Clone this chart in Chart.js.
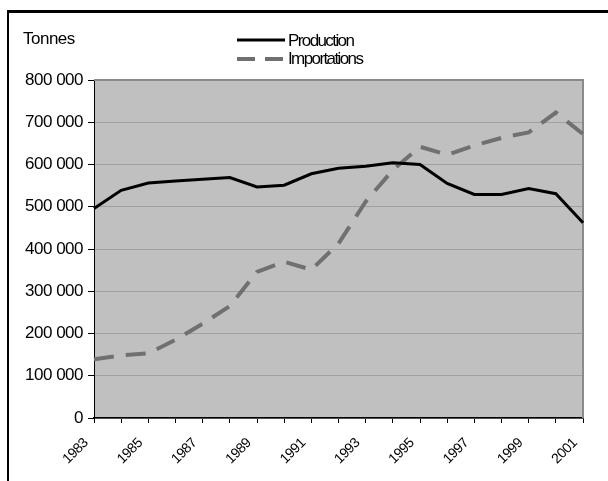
<!DOCTYPE html>
<html>
<head>
<meta charset="utf-8">
<script src="https://cdn.jsdelivr.net/npm/chart.js@4.4.1/dist/chart.umd.min.js"></script>
<style>
  html, body { margin: 0; padding: 0; background: #fff; }
  #wrap { width: 608px; height: 481px; }
</style>
</head>
<body>
<div id="wrap"><canvas id="c" width="608" height="481"></canvas></div>
<script>
// Annual tonnages, 1983-2001
const years = ['1983', '1984', '1985', '1986', '1987', '1988', '1989', '1990', '1991', '1992',
               '1993', '1994', '1995', '1996', '1997', '1998', '1999', '2000', '2001'];
const production = [496000, 539000, 556000, 561000, 565000, 569000, 547000, 551000, 578000, 591000,
                    596000, 604000, 600000, 555000, 529000, 529000, 543000, 531000, 462000];
const importations = [139000, 148000, 153000, 185000, 223000, 265000, 346000, 370000, 351000, 413000,
                      512000, 587000, 642000, 623000, 645000, 663000, 676000, 723000, 672000];
const seriesNames = ['Production', 'Importations'];
const unitLabel = 'Tonnes';
const yMax = 800000;
const yStep = 100000;

const FONT = "'Liberation Sans', Arial, sans-serif";

function spaced(v) {
  return String(v).replace(/\B(?=(\d{3})+(?!\d))/g, ' ');
}

// Background, outer frame, unit label and the stacked legend
const decor = {
  id: 'decor',
  beforeDraw(chart) {
    const { ctx, chartArea: a } = chart;
    ctx.save();
    ctx.fillStyle = '#ffffff';
    ctx.fillRect(0, 0, chart.width, chart.height);
    ctx.fillStyle = '#c0c0c0';
    ctx.fillRect(a.left, a.top, a.right - a.left, a.bottom - a.top);

    ctx.strokeStyle = '#000';
    ctx.lineWidth = 3;
    ctx.beginPath(); ctx.moveTo(7, 11.5); ctx.lineTo(chart.width, 11.5); ctx.stroke();
    ctx.lineWidth = 2;
    ctx.beginPath(); ctx.moveTo(8, 10); ctx.lineTo(8, chart.height); ctx.stroke();

    ctx.fillStyle = '#000';
    ctx.font = '17px ' + FONT;
    ctx.letterSpacing = '-0.5px';
    ctx.textBaseline = 'alphabetic';
    ctx.textAlign = 'left';
    ctx.fillText(unitLabel, 23, 44);

    // legend: one row per series
    const rows = [{ y: 40, base: 46 }, { y: 59, base: 64 }];
    chart.data.datasets.forEach((ds, i) => {
      const r = rows[i];
      ctx.save();
      ctx.strokeStyle = ds.borderColor;
      ctx.lineWidth = ds.borderWidth;
      ctx.lineCap = 'butt';
      ctx.setLineDash(ds.borderDash ? [18, 10] : []);
      ctx.beginPath(); ctx.moveTo(237, r.y); ctx.lineTo(285, r.y); ctx.stroke();
      ctx.restore();
      ctx.letterSpacing = '-1.6px';
      ctx.fillStyle = '#000';
      ctx.fillText(ds.label, 288, r.base);
    });
    ctx.restore();
    ctx.letterSpacing = '-0.5px';
  },
  beforeDatasetsDraw(chart) {
    const { ctx, chartArea: a } = chart;
    ctx.save();
    ctx.strokeStyle = '#8a8a8a';
    ctx.lineWidth = 2;
    ctx.beginPath();
    ctx.moveTo(a.left, a.top);
    ctx.lineTo(a.right, a.top);
    ctx.lineTo(a.right, a.bottom);
    ctx.stroke();
    ctx.restore();
  }
};

Chart.defaults.font.family = FONT;
Chart.defaults.color = '#000';

new Chart(document.getElementById('c'), {
  type: 'line',
  data: {
    labels: years,
    datasets: [
      {
        label: seriesNames[0],
        data: production,
        borderColor: '#000000',
        borderWidth: 3,
        pointRadius: 0,
        tension: 0,
        borderJoinStyle: 'miter'
      },
      {
        label: seriesNames[1],
        data: importations,
        borderColor: '#707070',
        borderWidth: 4,
        borderDash: [20, 12],
        borderCapStyle: 'butt',
        pointRadius: 0,
        tension: 0
      }
    ]
  },
  options: {
    responsive: false,
    animation: false,
    devicePixelRatio: 1,
    layout: { padding: { left: 0, top: 80, right: 25, bottom: 0 } },
    plugins: {
      legend: { display: false },
      tooltip: { enabled: false }
    },
    scales: {
      x: {
        offset: false,
        grid: { drawOnChartArea: false, tickLength: 5, tickColor: '#000', tickWidth: 1 },
        border: { color: '#000', width: 1.5 },
        ticks: {
          autoSkip: false,
          minRotation: 45,
          maxRotation: 45,
          padding: 12,
          labelOffset: -8,
          font: { size: 14 },
          callback: function (v, i) { return i % 2 === 0 ? this.getLabelForValue(v) : ''; }
        },
        afterFit(scale) { scale.height = 63; }
      },
      y: {
        min: 0,
        max: yMax,
        grid: { color: '#a0a0a0', lineWidth: 1, tickLength: 6, tickColor: '#000' },
        border: { color: '#000', width: 1 },
        ticks: {
          stepSize: yStep,
          padding: 5,
          font: { size: 17 },
          callback: (v) => spaced(v)
        },
        afterFit(scale) { scale.width = 94; }
      }
    }
  },
  plugins: [decor]
});
</script>
</body>
</html>
